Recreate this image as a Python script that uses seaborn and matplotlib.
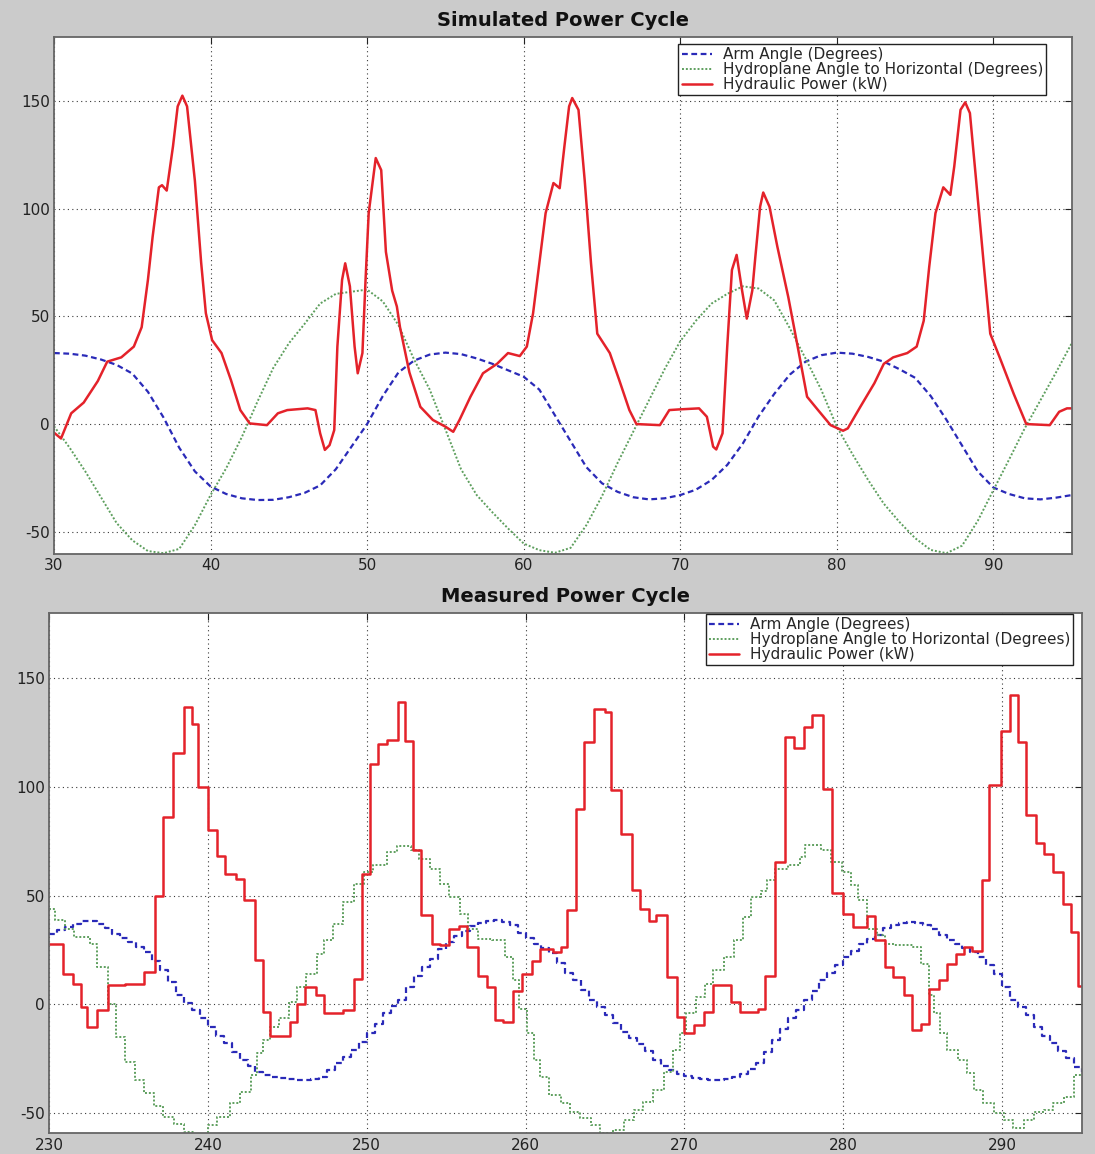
import numpy as np
import pandas as pd
import matplotlib
matplotlib.use("Agg")
import matplotlib.pyplot as plt
import seaborn as sns

# ---------------- DATA ----------------
labels = ["Arm Angle (Degrees)",
          "Hydroplane Angle to Horizontal (Degrees)",
          "Hydraulic Power (kW)"]
titles = ["Simulated Power Cycle", "Measured Power Cycle"]

# --- Simulated (top) ---
sim_time_1s = list(range(30, 96))
sim_arm = [33.0, 32.7, 31.8, 30.0, 27.5, 23.5, 15.0, 3.0, -11.0, -22.0,
           -29.0, -32.5, -34.5, -35.3, -35.2, -34.0, -32.0, -28.5, -21.0, -10.5,
           0.0, 13.0, 24.0, 29.5, 32.3, 33.2, 32.5, 30.5, 28.0, 25.0,
           22.0, 16.0, 4.0, -8.0, -20.0, -27.5, -31.5, -34.0, -35.0, -34.5,
           -33.0, -30.5, -26.0, -19.0, -9.0, 3.5, 14.0, 23.0, 29.0, 32.0,
           33.2, 32.7, 31.2, 29.0, 25.5, 21.5, 13.0, 2.0, -10.0, -22.0,
           -29.5, -32.5, -34.5, -35.0, -34.2, -33.0]
sim_hydro = [-1.0, -11.0, -22.0, -34.0, -46.0, -54.0, -59.0, -60.0, -58.0, -47.0,
             -33.0, -20.5, -6.0, 10.5, 26.0, 37.5, 46.5, 56.0, 60.5, 61.5,
             62.5, 57.0, 46.0, 30.0, 16.0, -2.5, -21.0, -33.0, -41.0, -48.5,
             -55.5, -58.6, -59.8, -57.5, -47.0, -33.5, -18.0, -3.5, 11.0, 25.5,
             38.5, 48.0, 56.0, 60.5, 64.0, 63.0, 57.5, 44.5, 30.5, 16.0,
             -1.2, -14.0, -26.0, -37.0, -45.5, -53.0, -58.5, -60.0, -56.5, -45.0,
             -30.7, -16.5, -2.0, 11.0, 24.0, 37.5]
sim_power_t = [30.0, 30.45, 31.1, 31.9, 32.8, 33.4, 34.3, 35.1, 35.6, 36.0,
               36.3, 36.7, 36.9, 37.2, 37.6, 37.9, 38.2, 38.5, 39.0, 39.4,
               39.7, 40.1, 40.7, 41.3, 41.9, 42.5, 43.6, 44.3, 44.9, 46.2,
               46.7, 47.0, 47.3, 47.6, 47.9, 48.1, 48.4, 48.6, 48.9, 49.2,
               49.4, 49.7, 49.9, 50.1, 50.55, 50.9, 51.2, 51.6, 51.9, 52.1,
               52.7, 53.4, 54.2, 55.0, 55.5, 55.9, 56.6, 57.4, 58.3, 59.0,
               59.75, 60.2, 60.6, 61.0, 61.4, 61.9, 62.3, 62.6, 62.9, 63.1,
               63.5, 63.9, 64.3, 64.7, 65.5, 66.1, 66.75, 67.2, 68.7, 69.3,
               69.9, 71.2, 71.7, 72.1, 72.3, 72.7, 73.0, 73.3, 73.6, 73.95,
               74.25, 74.6, 74.8, 75.1, 75.3, 75.7, 76.2, 76.9, 77.5, 78.1,
               78.8, 79.6, 80.4, 80.7, 81.5, 82.4, 83.0, 83.6, 84.5, 85.1,
               85.55, 85.9, 86.3, 86.8, 87.25, 87.5, 87.9, 88.2, 88.5, 88.9,
               89.4, 89.8, 90.4, 91.3, 92.1, 93.6, 94.2, 94.7, 95.0]
sim_power = [-4.0, -6.7, 5.0, 10.0, 20.0, 29.0, 31.0, 36.0, 45.0, 67.0,
             87.0, 110.0, 111.0, 108.5, 129.0, 147.6, 152.6, 147.6, 113.0, 75.0,
             51.5, 39.0, 33.0, 20.5, 6.5, 0.3, -0.5, 5.0, 6.5, 7.3,
             6.5, -4.3, -12.0, -9.8, -2.8, 36.0, 67.0, 74.7, 64.0, 36.0,
             23.6, 33.0, 67.0, 98.0, 123.6, 118.0, 80.0, 62.0, 54.6, 45.0,
             24.0, 8.0, 1.9, -1.2, -3.6, 1.9, 12.7, 23.6, 28.0, 33.0,
             31.6, 36.0, 51.5, 74.7, 98.0, 112.0, 109.6, 129.0, 147.6, 151.5,
             146.0, 113.0, 74.7, 42.0, 33.0, 20.5, 6.5, 0.0, -0.5, 6.5,
             6.8, 7.3, 3.4, -10.5, -11.8, -4.3, 36.0, 71.6, 78.6, 62.0,
             49.0, 62.0, 78.0, 101.0, 107.6, 101.0, 82.5, 59.0, 36.0, 12.7,
             6.5, -0.5, -3.1, -2.0, 8.0, 19.0, 28.0, 31.0, 33.0, 36.0,
             48.0, 73.0, 98.0, 110.0, 106.5, 119.7, 146.0, 149.5, 144.5, 113.0,
             73.0, 42.0, 31.0, 14.0, 0.0, -0.5, 5.7, 7.3, 7.3]

# --- Measured (bottom) ---
meas_arm_start, meas_arm_step = 230.0, 0.5
meas_arm = [32.5, 34.0, 35.6, 37.0, 38.3, 38.3, 37.1, 35.0, 32.5, 30.5,
            28.7, 26.5, 24.1, 20.0, 15.6, 10.0, 4.1, 0.5, -2.8, -6.5,
            -10.4, -14.5, -18.1, -22.0, -25.8, -28.5, -31.1, -32.5, -33.4, -34.2,
            -34.7, -35.0, -35.0, -34.5, -33.4, -30.5, -27.3, -24.5, -21.2, -17.5,
            -13.5, -9.0, -4.3, -1.0, 2.0, 8.0, 13.0, 17.0, 21.0, 25.5,
            28.5, 31.5, 33.5, 36.0, 37.5, 38.5, 38.7, 38.0, 36.5, 33.0,
            30.5, 27.9, 26.0, 23.5, 19.0, 14.5, 11.0, 6.5, 2.0, -1.5,
            -5.0, -8.9, -13.0, -15.5, -18.5, -21.5, -25.8, -28.5, -30.5, -32.0,
            -33.0, -34.0, -34.5, -35.0, -35.0, -34.5, -33.5, -32.3, -30.0, -27.0,
            -22.0, -16.5, -11.5, -6.5, -2.5, 2.0, 6.0, 11.0, 14.5, 18.0,
            21.5, 24.5, 27.5, 30.0, 32.0, 35.0, 36.5, 37.5, 37.9, 37.5,
            36.5, 34.5, 32.0, 29.4, 27.5, 26.0, 24.0, 21.5, 18.0, 14.1,
            8.0, 2.0, -1.5, -5.0, -10.4, -14.5, -18.0, -21.5, -25.0, -28.8,
            -31.1]

meas_hydro_t = [230.0, 230.4, 231.0, 231.6, 232.6, 233.0, 233.7, 234.2, 234.8, 235.4,
                236.0, 236.6, 237.2, 237.9, 238.5, 239.1, 240.0, 240.6, 241.4, 242.0,
                242.7, 243.1, 243.5, 243.9, 244.5, 245.1, 245.6, 246.2, 246.9, 247.3,
                247.9, 248.5, 249.2, 249.8, 250.4, 251.3, 251.9, 252.8, 253.3, 254.0,
                254.6, 255.2, 255.9, 256.4, 257.0, 257.9, 258.7, 259.2, 259.6, 260.1,
                260.5, 260.9, 261.5, 262.2, 262.8, 263.4, 264.1, 264.7, 265.5, 266.2,
                266.8, 267.4, 268.0, 268.7, 269.3, 269.7, 270.1, 270.7, 271.3, 271.8,
                272.5, 273.1, 273.7, 274.2, 274.8, 275.2, 275.7, 276.5, 277.3, 277.6,
                278.6, 279.2, 279.9, 280.5, 280.9, 281.5, 282.1, 282.6, 283.2, 284.4,
                284.9, 285.4, 285.7, 286.1, 286.5, 287.2, 287.8, 288.2, 288.8, 289.5,
                290.1, 290.7, 291.4, 292.0, 292.6, 293.2, 293.9, 294.5, 295.0]
meas_hydro = [44.0, 38.7, 34.8, 31.0, 27.9, 17.2, 0.0, -15.0, -26.5, -35.0,
              -41.0, -47.0, -52.0, -55.0, -58.7, -59.8, -55.7, -52.0, -45.7, -40.3,
              -32.7, -22.7, -16.6, -10.4, -6.6, 1.1, 8.0, 14.1, 23.3, 29.4,
              37.1, 47.0, 55.5, 60.9, 64.0, 70.0, 73.0, 70.9, 67.0, 62.4,
              55.5, 49.4, 41.7, 34.8, 30.2, 29.4, 21.8, 11.0, -2.0, -13.5,
              -25.8, -33.4, -41.9, -45.7, -49.5, -52.6, -55.7, -59.5, -58.0, -53.4,
              -48.8, -45.0, -39.6, -31.1, -21.2, -13.5, -4.3, 3.4, 9.5, 15.6,
              21.8, 29.4, 40.2, 49.4, 52.0, 57.0, 62.4, 64.0, 67.8, 73.2,
              70.9, 65.5, 61.0, 54.8, 47.9, 34.8, 31.7, 27.9, 27.1, 26.4,
              18.7, 4.1, -4.3, -13.5, -21.2, -25.8, -31.9, -39.6, -45.7, -50.3,
              -53.4, -57.2, -53.4, -49.5, -48.8, -45.7, -42.6, -32.7, -32.7]

meas_power_t = [230.0, 230.9, 231.5, 232.0, 232.4, 233.0, 233.7, 234.8, 236.0, 236.65,
                237.2, 237.8, 238.5, 239.0, 239.4, 240.0, 240.6, 241.1, 241.8, 242.3,
                243.0, 243.5, 243.9, 245.2, 245.6, 246.1, 246.8, 247.3, 248.5, 249.2,
                249.7, 250.2, 250.7, 251.3, 252.0, 252.4, 252.9, 253.4, 254.1, 254.6,
                255.2, 255.8, 256.3, 257.0, 257.6, 258.1, 258.6, 259.2, 259.8, 260.4,
                260.9, 261.7, 262.2, 262.6, 263.2, 263.7, 264.3, 265.0, 265.4, 266.0,
                266.7, 267.2, 267.8, 268.2, 268.9, 269.5, 270.0, 270.6, 271.2, 271.8,
                272.9, 273.5, 274.6, 275.1, 275.7, 276.3, 276.9, 277.5, 278.05, 278.7,
                279.3, 280.0, 280.6, 281.5, 282.0, 282.6, 283.1, 283.8, 284.3, 284.9,
                285.4, 286.0, 286.5, 287.1, 287.6, 288.1, 288.7, 289.2, 289.9, 290.5,
                291.0, 291.5, 292.1, 292.6, 293.2, 293.8, 294.3, 294.8, 295.0]
meas_power = [27.9, 14.1, 9.2, -1.5, -10.4, -2.8, 8.6, 9.2, 14.7, 49.8,
              86.2, 115.6, 136.8, 129.1, 100.0, 80.4, 68.1, 60.1, 57.8, 48.2,
              20.2, -3.5, -14.7, -8.1, 0.3, 8.0, 4.1, -4.0, -2.8, 11.5,
              60.1, 110.7, 119.9, 121.8, 139.1, 121.0, 70.9, 41.0, 27.9, 27.1,
              34.4, 35.9, 26.4, 12.9, 8.0, -7.1, -8.1, 6.1, 14.1, 19.9,
              25.6, 24.1, 26.4, 43.3, 90.0, 120.7, 136.0, 134.5, 98.5, 78.2,
              52.5, 43.6, 38.3, 41.0, 12.6, -6.1, -13.5, -9.7, -3.8, 8.7,
              1.1, -3.8, -2.0, 12.9, 65.5, 123.0, 118.0, 127.6, 133.3, 99.2,
              51.2, 41.7, 35.6, 40.5, 29.4, 17.2, 12.6, 4.1, -12.0, -9.2,
              7.2, 11.0, 18.7, 23.3, 26.1, 24.5, 57.0, 100.8, 126.0, 142.2,
              120.7, 87.0, 74.2, 69.0, 60.9, 46.3, 33.3, 8.3, 8.3]

x_ticks_top = [30, 40, 50, 60, 70, 80, 90]
x_ticks_bot = [230, 240, 250, 260, 270, 280, 290]
y_ticks = [-50, 0, 50, 100, 150]

# ---------------- STYLE ----------------
sns.set_style("white")
plt.rcParams['font.family'] = ['DejaVu Sans']
plt.rcParams['axes.unicode_minus'] = False

BG = "#cbcbcb"
C_ARM = "#2a2ab8"
C_HYD = "#5e9f5e"
C_PWR = "#e4222a"

fig = plt.figure(figsize=(10.95, 11.54), dpi=100, facecolor=BG)
ax_top = fig.add_axes([0.0493, 0.5197, 0.9294, 0.4485])
ax_bot = fig.add_axes([0.0447, 0.0179, 0.9431, 0.4506])

arm_ls = (0, (2.6, 1.6))
hyd_ls = (0, (1.0, 1.0))


def style_axes(ax, xlim, ylim, xticks, title, leg_anchor):
    ax.set_facecolor("white")
    ax.set_xlim(*xlim)
    ax.set_ylim(*ylim)
    ax.set_xticks(xticks)
    ax.set_yticks(y_ticks)
    ax.set_xlabel("")
    ax.set_ylabel("")
    ax.grid(True, color="#3a3a3a", linestyle=(0, (1, 3)), linewidth=0.8)
    ax.tick_params(direction="in", length=5, width=0.8, top=True, right=True,
                   labelsize=11, pad=3, colors="#222222")
    for s in ax.spines.values():
        s.set_color("#666666")
        s.set_linewidth(1.3)
    ax.set_title(title, fontsize=14, fontweight="bold", pad=8, color="#111111")
    leg = ax.legend(loc="upper right", bbox_to_anchor=leg_anchor, fontsize=11,
                    frameon=True, fancybox=False, framealpha=1, edgecolor="#222222",
                    borderaxespad=0, borderpad=0.2, labelspacing=0.0,
                    handlelength=2.0, handletextpad=0.7)
    leg.get_frame().set_linewidth(1.0)


# ---- top: simulated ----
df_top_arm = pd.DataFrame({"t": sim_time_1s, "v": sim_arm})
df_top_hyd = pd.DataFrame({"t": sim_time_1s, "v": sim_hydro})
df_top_pwr = pd.DataFrame({"t": sim_power_t, "v": sim_power})

sns.lineplot(data=df_top_arm, x="t", y="v", ax=ax_top, color=C_ARM, linestyle=arm_ls,
             linewidth=1.6, label=labels[0], estimator=None, errorbar=None)
sns.lineplot(data=df_top_hyd, x="t", y="v", ax=ax_top, color=C_HYD, linestyle=hyd_ls,
             linewidth=1.4, label=labels[1], estimator=None, errorbar=None)
sns.lineplot(data=df_top_pwr, x="t", y="v", ax=ax_top, color=C_PWR, linestyle="-",
             linewidth=1.8, label=labels[2], estimator=None, errorbar=None)
style_axes(ax_top, (30, 95), (-60.5, 180), x_ticks_top, titles[0], (0.975, 0.986))

# ---- bottom: measured ----
arm_t = meas_arm_start + meas_arm_step * np.arange(len(meas_arm))
df_bot_arm = pd.DataFrame({"t": arm_t, "v": meas_arm})
df_bot_hyd = pd.DataFrame({"t": meas_hydro_t, "v": meas_hydro})
df_bot_pwr = pd.DataFrame({"t": meas_power_t, "v": meas_power})

sns.lineplot(data=df_bot_arm, x="t", y="v", ax=ax_bot, color=C_ARM, linestyle=arm_ls,
             linewidth=1.6, label=labels[0], estimator=None, errorbar=None,
             drawstyle="steps-post")
sns.lineplot(data=df_bot_hyd, x="t", y="v", ax=ax_bot, color=C_HYD, linestyle=hyd_ls,
             linewidth=1.4, label=labels[1], estimator=None, errorbar=None,
             drawstyle="steps-post")
sns.lineplot(data=df_bot_pwr, x="t", y="v", ax=ax_bot, color=C_PWR, linestyle="-",
             linewidth=1.8, label=labels[2], estimator=None, errorbar=None,
             drawstyle="steps-post")
style_axes(ax_bot, (230, 295), (-59.5, 180), x_ticks_bot, titles[1], (0.992, 0.999))

fig.savefig("out.png", dpi=100, facecolor=BG)
